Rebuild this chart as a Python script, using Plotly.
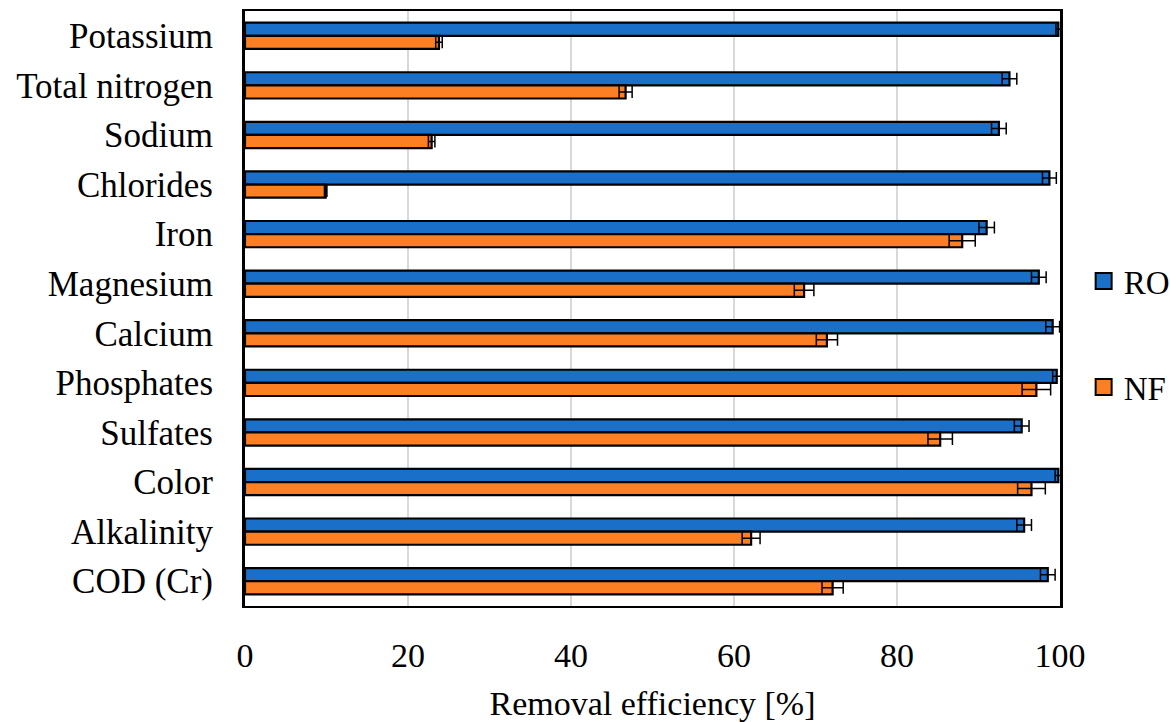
import plotly.graph_objects as go

# Parameters (top to bottom as listed on the axis)
parameters = ["Potassium", "Total nitrogen", "Sodium", "Chlorides", "Iron", "Magnesium",
              "Calcium", "Phosphates", "Sulfates", "Color", "Alkalinity", "COD (Cr)"]

# Removal efficiency [%] and standard deviation
ro_mean = [99.8, 93.8, 92.5, 98.7, 91.0, 97.4, 99.1, 99.6, 95.3, 99.8, 95.6, 98.5]
ro_err = [0.3, 0.9, 0.9, 0.85, 0.95, 0.9, 0.85, 0.5, 0.9, 0.4, 0.9, 0.9]
nf_mean = [23.8, 46.7, 22.9, 9.9, 88.0, 68.6, 71.4, 97.1, 85.3, 96.5, 62.1, 72.1]
nf_err = [0.4, 0.8, 0.4, 0.15, 1.6, 1.2, 1.3, 1.75, 1.5, 1.7, 1.1, 1.3]

FONT = "Liberation Serif"
BLUE = "#1a70c8"
ORANGE = "#fd7f23"

fig = go.Figure()
series = [("RO", ro_mean, ro_err, BLUE), ("NF", nf_mean, nf_err, ORANGE)]
for name, vals, errs, color in series:
    fig.add_trace(go.Bar(
        name=name, y=parameters, x=vals, orientation="h",
        marker=dict(color=color, line=dict(color="black", width=2.2)),
        error_x=dict(type="data", array=errs, color="black", thickness=1.5, width=6),
        showlegend=False,
    ))
# Legend entries with larger square swatches
for name, vals, errs, color in series:
    fig.add_trace(go.Scatter(
        name=name, x=[None], y=[None], mode="markers",
        marker=dict(symbol="square", size=16, color=color,
                    line=dict(color="black", width=2)),
        legendgroup=name,
    ))

fig.update_layout(
    width=1170, height=722,
    margin=dict(l=245, r=110, t=11, b=116, autoexpand=False),
    paper_bgcolor="white", plot_bgcolor="white",
    barmode="group", bargap=0.47, bargroupgap=0,
    font=dict(family=FONT, size=34, color="black"),
    legend=dict(x=1.029, y=0.457, xanchor="left", yanchor="middle",
                traceorder="grouped", tracegroupgap=60,
                font=dict(family=FONT, size=33), itemwidth=30),
    xaxis=dict(range=[0, 100], tickvals=[0, 20, 40, 60, 80, 100],
               showgrid=True, gridcolor="#d9d9d9", gridwidth=2,
               showline=True, linecolor="black", linewidth=2, mirror=True,
               ticks="outside", ticklen=0, ticklabelstandoff=18,
               tickfont=dict(family=FONT, size=34),
               title=dict(text="Removal efficiency [%]", standoff=24,
                          font=dict(family=FONT, size=34)),
               zeroline=False),
    yaxis=dict(autorange="reversed", showline=True, linecolor="black", linewidth=3,
               mirror=True, ticks="outside", ticklen=0, ticklabelstandoff=22,
               tickfont=dict(family=FONT, size=35)),
)

fig.write_html("out.html")
